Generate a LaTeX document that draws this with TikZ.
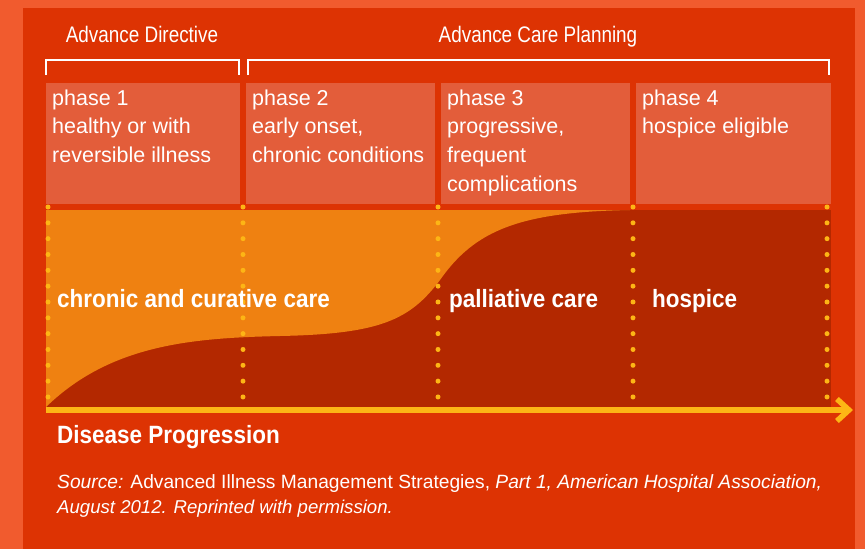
\documentclass[tikz,border=0pt]{standalone}
\usepackage{fontspec}
\setmainfont{Liberation Sans}
\newfontfamily\narrowfont{Liberation Sans}[FakeStretch=0.84]
\newfontfamily\boldnarrow{Liberation Sans}[FakeStretch=0.9]
\usetikzlibrary{arrows.meta}
\definecolor{rimorange}{HTML}{F15B2E}
\definecolor{panelred}{HTML}{DD3303}
\definecolor{boxred}{HTML}{E35D3A}
\definecolor{careorange}{HTML}{EF8111}
\definecolor{hospicered}{HTML}{B32800}
\definecolor{dotyellow}{HTML}{FDB515}

\begin{document}
\begin{tikzpicture}[x=1pt, y=-1pt, every node/.style={text=white, inner sep=0pt},
  phasebox/.style={fill=boxred, anchor=north west, minimum height=121pt},
  phasetext/.style={anchor=north west, align=left, font=\fontsize{21.5}{28.7}\selectfont},
  head/.style={anchor=base, font=\narrowfont\fontsize{22.5}{26}\selectfont},
  care/.style={anchor=base west, font=\boldnarrow\bfseries\fontsize{25}{30}\selectfont},
  bracket/.style={draw=white, line width=2pt},
  axis/.style={draw=dotyellow, line width=5.5pt, -{Straight Barb[length=12pt, width=22pt]}}]
	\useasboundingbox (0,0) rectangle (865,549);
	\fill[rimorange] (0,0) rectangle (865,549);
	\fill[panelred] (23,8) rectangle (855,549);
	\node[head] (ad) at (142,42) {Advance Directive};
	\node[head] (acp) at (538,42) {Advance Care Planning};
	\draw[bracket] (46,75) -- (46,60) -- (239,60) -- (239,75);
	\draw[bracket] (248,75) -- (248,60) -- (829,60) -- (829,75);
	\foreach \n/\x/\w in {1/46/194, 2/246/189, 3/441/189, 4/636/195} {\node[phasebox, minimum width=\w pt] (box\n) at (\x,83) {};}
	\node[phasetext] (t1) at (52,89.5) {phase 1\\healthy or with\\reversible illness};
	\node[phasetext] (t2) at (252,89.5) {phase 2\\early onset,\\chronic conditions};
	\node[phasetext] (t3) at (447,89.5) {phase 3\\progressive,\\frequent\\complications};
	\node[phasetext] (t4) at (642,89.5) {phase 4\\hospice eligible};
	\fill[hospicered] (46,210) rectangle (831,407);
	\fill[careorange] (46,210) -- (46,407) .. controls (110,345) and (190,338) .. (280,336) .. controls (380,334) and (410,320) .. (440,280) .. controls (475,230) and (520,212) .. (630,210) -- cycle;
	\foreach \x in {48,243,438,633,827} {\foreach \k in {0,...,12} {\fill[dotyellow] (\x,{207+15.83*\k}) circle (2.5pt);}}
	\node[care] (chronic) at (57,307) {chronic and curative care};
	\node[care] (palliative) at (449,307) {palliative care};
	\node[care] (hospice) at (652,307) {hospice};
	\coordinate (axis start) at (46,410);
	\coordinate (axis end) at (853,410);
	\draw[axis] (axis start) -- (axis end);
	\node[care] (progression) at (57,443) {Disease Progression};
	\node[anchor=base west, font=\fontsize{19.2}{24}\selectfont] (src1) at (57,488) {\textit{Source:} Advanced Illness Management Strategies, \textit{Part 1, American Hospital Association,}};
	\node[anchor=base west, font=\fontsize{18.6}{24}\selectfont] (src2) at (57,513) {\textit{August 2012. Reprinted with permission.}};
\end{tikzpicture}
\end{document}
